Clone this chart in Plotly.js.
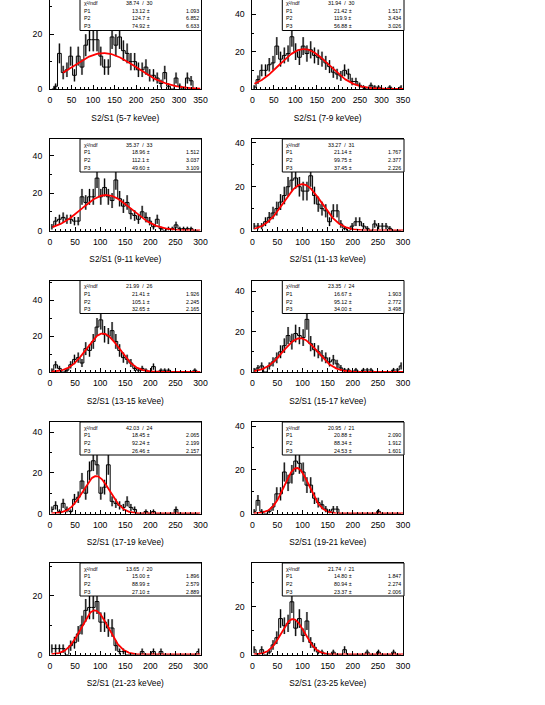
<!DOCTYPE html>
<html><head><meta charset="utf-8">
<script src="https://cdn.plot.ly/plotly-3.0.1.min.js"></script>
<style>html,body{margin:0;padding:0;background:#fff}#chart{width:545px;height:705px}</style>
</head><body><div id="chart"></div>
<script>
// ---------- data ----------
const energyBins = ['5-7','7-9','9-11','11-13','13-15','15-17','17-19','19-21','21-23','23-25'];
const xMax = [350,350,300,300,300,300,300,300,300,300];
const binWidth = [8.75,8.75,7.5,7.5,7.5,7.5,7.5,7.5,7.5,7.5];

const counts_5_7   = [0,1,13,6,7,12,5,12,8,16,18,18,18,12,8,8,19,16,19,14,13,10,10,7,7,8,5,5,4,2,6,1,0,4,1,0,4,3,0,0];
const counts_7_9   = [1,5,10,10,13,14,23,16,18,19,28,20,17,23,19,21,18,17,16,14,12,9,8,7,10,8,4,4,2,1,0,2,1,1,0,0,1,0,0,1];
const counts_9_11  = [2,5,6,7,6,6,5,5,18,15,18,18,28,18,23,18,16,27,17,13,15,9,8,6,10,7,5,2,6,1,0,1,1,3,1,1,1,1,0,0];
const counts_11_13 = [2,2,2,4,6,8,10,13,16,20,23,24,20,18,18,25,16,12,10,9,4,9,9,3,1,0,2,4,4,2,1,0,3,2,2,2,1,0,0,0];
const counts_13_15 = [1,4,2,0,1,4,7,8,5,13,12,17,25,29,21,20,23,17,12,8,7,5,2,1,2,1,0,3,0,1,1,1,0,0,0,0,0,0,1,0];
const counts_15_17 = [1,2,3,0,3,5,7,10,13,18,15,19,18,17,26,14,11,10,8,7,5,6,4,2,1,1,0,1,0,1,1,1,0,0,0,0,0,1,1,3];
const counts_17_19 = [2,4,1,5,2,1,7,8,16,10,21,26,24,10,13,24,6,5,4,3,6,3,2,0,0,1,0,1,0,0,0,0,0,2,0,0,0,0,0,0];
const counts_19_21 = [1,6,1,0,1,3,9,9,19,14,18,24,23,19,13,13,7,5,4,2,1,2,2,0,0,0,0,0,0,0,0,0,0,1,0,0,0,0,0,0];
const counts_21_23 = [2,2,2,2,0,3,4,7,10,15,16,16,18,11,11,9,9,3,1,1,0,0,0,0,1,0,0,1,0,1,0,0,0,0,0,0,0,0,0,1];
const counts_23_25 = [2,0,2,0,1,4,7,15,12,13,22,11,15,8,14,5,3,1,1,0,0,1,0,0,2,0,0,0,0,0,1,0,0,1,0,0,0,1,0,0];
const allCounts = [counts_5_7,counts_7_9,counts_9_11,counts_11_13,counts_13_15,counts_15_17,counts_17_19,counts_19_21,counts_21_23,counts_23_25];

// Gaussian fit results (stat boxes)
const chi2   = ['38.74','31.94','35.37','33.27','21.99','23.35','42.03','20.95','13.65','21.74'];
const ndf    = ['30','30','33','31','26','24','24','21','20','21'];
const p1     = ['13.12','21.42','18.96','21.14','21.41','16.67','18.45','20.88','15.00','14.80'];
const p1err  = ['1.093','1.517','1.512','1.767','1.926','1.903','2.065','2.090','1.896','1.847'];
const p2     = ['124.7','119.9','112.1','99.75','105.1','95.12','92.24','88.34','88.99','80.94'];
const p2err  = ['6.852','3.434','3.037','2.377','2.245','2.772','2.199','1.912','2.579','2.274'];
const p3     = ['74.92','56.88','49.60','37.45','32.65','34.00','26.46','24.53','27.10','23.37'];
const p3err  = ['6.633','3.026','3.109','2.226','2.165','3.498','2.157','1.601','2.889','2.006'];
const fitMin = [30,5,5,4,3,4,3,3,3,3];
const fitMax = [350,350,300,300,300,300,300,300,300,300];

// ---------- layout geometry (pixels) ----------
const W = 545, H = 705;
const colLeft  = [50, 252.3];
const colRight = [200.5, 403];
const rowBottom = [89, 230.5, 372, 513.5, 654.5];
const frameH = 91.5;
const yTopValue = [32.5,47.7,48.9,41.8,50.9,45.2,45.1,41.9,31.1,38.2];

const px = x => x / W;
const py = y => 1 - y / H;

const traces = [];
const layout = {
  width: W, height: H,
  margin: {l:0, r:0, t:0, b:0},
  paper_bgcolor: '#ffffff', plot_bgcolor: '#ffffff',
  showlegend: false,
  font: {family: 'Liberation Sans, Arial, sans-serif', color: '#000'},
  shapes: [], annotations: []
};

for (let i = 0; i < 10; i++) {
  const col = i % 2, row = Math.floor(i / 2);
  const n = i + 1;
  const xa = 'x' + (n === 1 ? '' : n), ya = 'y' + (n === 1 ? '' : n);
  const bw = binWidth[i];
  const counts = allCounts[i];
  const centers = counts.map((_, k) => (k + 0.5) * bw);

  const bottomPx = rowBottom[row];
  const topFramePx = bottomPx - frameH;
  const topDomPx = Math.max(0, topFramePx);

  // grey error boxes
  traces.push({
    type: 'scatter', mode: 'markers', x: centers, y: counts, xaxis: xa, yaxis: ya,
    marker: {size: 1, color: 'rgba(0,0,0,0)'},
    error_y: {type: 'sqrt', color: '#a8a8a8', thickness: 2.2, width: 0},
    hoverinfo: 'skip'
  });
  // histogram step
  traces.push({
    type: 'scatter', mode: 'lines', x: centers, y: counts, xaxis: xa, yaxis: ya,
    line: {shape: 'hvh', color: '#000', width: 1}, hoverinfo: 'skip'
  });
  // black error bars
  traces.push({
    type: 'scatter', mode: 'markers', x: centers, y: counts, xaxis: xa, yaxis: ya,
    marker: {size: 1, color: 'rgba(0,0,0,0)'},
    error_y: {type: 'sqrt', color: '#000', thickness: 1, width: 0},
    hoverinfo: 'skip'
  });
  // Gaussian fit curve evaluated from the displayed fit parameters
  const A = parseFloat(p1[i]), mu = parseFloat(p2[i]), sg = parseFloat(p3[i]);
  const fx = [], fy = [];
  for (let x = fitMin[i]; x <= fitMax[i]; x += 1) {
    fx.push(x); fy.push(A * Math.exp(-0.5 * Math.pow((x - mu) / sg, 2)));
  }
  traces.push({
    type: 'scatter', mode: 'lines', x: fx, y: fy, xaxis: xa, yaxis: ya,
    line: {color: '#ff0000', width: 1.8}, hoverinfo: 'skip'
  });

  layout['xaxis' + (n === 1 ? '' : n)] = {
    domain: [px(colLeft[col]), px(colRight[col])],
    anchor: ya, range: [0, xMax[i]],
    tick0: 0, dtick: 50, ticks: 'inside', ticklen: 4, tickwidth: 1, tickcolor: '#000',
    minor: {dtick: 10, ticks: 'inside', ticklen: 2, tickcolor: '#000', showgrid: false},
    showline: true, linecolor: '#000', linewidth: 1, mirror: row > 0,
    showgrid: false, zeroline: false,
    tickfont: {size: 8.7, color: '#000'}, ticklabelstandoff: 3,
    title: {text: 'S2/S1 (' + energyBins[i] + ' keVee)', font: {size: 8.3, color: '#000'}, standoff: 10},
    fixedrange: true
  };
  layout['yaxis' + (n === 1 ? '' : n)] = {
    domain: [py(bottomPx), py(topDomPx)],
    anchor: xa, range: [0, yTopValue[i]],
    tick0: 0, dtick: 20, ticks: 'inside', ticklen: 4, tickwidth: 1, tickcolor: '#000',
    minor: {dtick: 10, ticks: 'inside', ticklen: 2, tickcolor: '#000', showgrid: false},
    showline: true, linecolor: '#000', linewidth: 1, mirror: true,
    showgrid: false, zeroline: false,
    tickfont: {size: 8.7, color: '#000'}, ticklabelstandoff: 5,
    fixedrange: true
  };

  // stat box
  const bl = colLeft[col] + 30, br = colRight[col] + 1;
  layout.shapes.push({
    type: 'rect', xref: 'paper', yref: 'paper', layer: 'above',
    x0: px(bl), x1: px(br), y0: py(topFramePx + 33), y1: py(topFramePx),
    line: {color: '#000', width: 1}, fillcolor: '#ffffff'
  });
  const rowsY = [5.6, 13.3, 21.0, 28.7].map(d => py(topFramePx + d));
  const fnt = {size: 5.3, color: '#000', family: 'Liberation Sans, Arial, sans-serif'};
  const ann = (x, y, text, xanchor) => layout.annotations.push({
    xref: 'paper', yref: 'paper', x: px(x), y: y, text: text, showarrow: false,
    xanchor: xanchor, yanchor: 'middle', font: fnt, borderpad: 0
  });
  ann(bl + 2.5, rowsY[0], 'χ²/ndf', 'left');
  ann(bl + 45, rowsY[0], chi2[i] + '\u00a0\u00a0/\u00a0\u00a0' + ndf[i], 'left');
  const pv = [p1[i], p2[i], p3[i]], pe = [p1err[i], p2err[i], p3err[i]];
  for (let r = 0; r < 3; r++) {
    ann(bl + 2.5, rowsY[r + 1], 'P' + (r + 1), 'left');
    ann(bl + 50.5, rowsY[r + 1], pv[r] + ' ±', 'left');
    ann(br - 2, rowsY[r + 1], pe[r], 'right');
  }
}

Plotly.newPlot('chart', traces, layout, {staticPlot: true, displayModeBar: false});
</script></body></html>
